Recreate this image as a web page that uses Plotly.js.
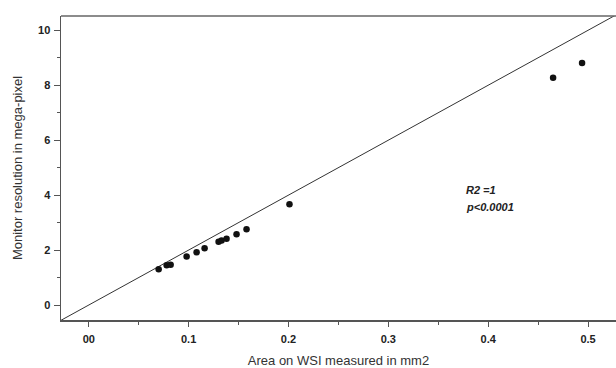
<!DOCTYPE html>
<html><head><meta charset="utf-8">
<script src="https://cdn.plot.ly/plotly-3.0.1.min.js"></script>
<style>html,body{margin:0;padding:0;background:#fff;}#chart{width:616px;height:368px;}</style>
</head><body><div id="chart"></div>
<script>
// Data
const areaMm2 = [0.070, 0.078, 0.082, 0.098, 0.108, 0.116, 0.130, 0.133, 0.138, 0.148, 0.158, 0.201, 0.465, 0.494];
const megaPixel = [1.30, 1.45, 1.47, 1.77, 1.92, 2.07, 2.30, 2.35, 2.41, 2.58, 2.76, 3.67, 8.27, 8.81];
const fitSlope = 20;
const fitX = [-0.0278, 0.528];
const xTickVals = [0, 0.1, 0.2, 0.3, 0.4, 0.5];
const xTickText = ['00', '0.1', '0.2', '0.3', '0.4', '0.5'];
const yTickVals = [0, 2, 4, 6, 8, 10];
const yTickText = ['0', '2', '4', '6', '8', '10'];
const statsText = ['R2 =1', 'p<0.0001'];

const fitY = fitX.map(x => fitSlope * x);

const traces = [
  {x: fitX, y: fitY, mode: 'lines', line: {color: '#333', width: 1}, hoverinfo: 'skip'},
  {x: areaMm2, y: megaPixel, mode: 'markers', marker: {color: '#111', size: 6.5}}
];

const tickFont = {family: 'Liberation Sans, Arial, sans-serif', size: 11, color: '#222', weight: 'bold'};
const titleFont = {family: 'Liberation Sans, Arial, sans-serif', size: 13, color: '#333'};

const layout = {
  width: 616, height: 368,
  margin: {l: 61, r: 0, t: 16, b: 48, pad: 0},
  paper_bgcolor: '#fff', plot_bgcolor: '#fff',
  showlegend: false,
  xaxis: {
    range: [fitX[0], fitX[1]], showgrid: false, zeroline: false,
    showline: true, linecolor: '#555', linewidth: 1.5,
    ticks: 'outside', ticklen: 5, tickwidth: 1, tickcolor: '#555',
    tickvals: xTickVals, ticktext: xTickText, tickfont: tickFont, ticklabelstandoff: 3,
    minor: {dtick: 0.05, ticks: 'outside', ticklen: 3, tickcolor: '#555', showgrid: false},
    title: {text: 'Area on WSI measured in mm2', font: titleFont, standoff: 14}
  },
  yaxis: {
    range: [-0.545, 10.52], showgrid: false, zeroline: false,
    showline: true, linecolor: '#555', linewidth: 1.5,
    ticks: 'outside', ticklen: 6, tickwidth: 1, tickcolor: '#555',
    tickvals: yTickVals, ticktext: yTickText, tickfont: tickFont, ticklabelstandoff: 1,
    minor: {dtick: 1, ticks: 'outside', ticklen: 3, tickcolor: '#555', showgrid: false},
    title: {text: 'Monitor resolution in mega-pixel', font: titleFont, standoff: 12}
  },
  shapes: [
    {type: 'line', xref: 'paper', yref: 'paper', x0: 0, x1: 1, y0: 1, y1: 1, line: {color: '#666', width: 1.5}}
  ],
  annotations: [
    {xref: 'x', yref: 'y', x: 0.376, y: 4.2, xanchor: 'left', yanchor: 'middle', showarrow: false,
     text: '<b><i>' + statsText[0] + '</i></b>', font: {family: 'Liberation Sans, Arial, sans-serif', size: 11, color: '#222'}},
    {xref: 'x', yref: 'y', x: 0.376, y: 3.55, xanchor: 'left', yanchor: 'middle', showarrow: false,
     text: '<b><i>' + statsText[1] + '</i></b>', font: {family: 'Liberation Sans, Arial, sans-serif', size: 11, color: '#222'}}
  ]
};

Plotly.newPlot('chart', traces, layout, {displayModeBar: false, staticPlot: true});
</script></body></html>
